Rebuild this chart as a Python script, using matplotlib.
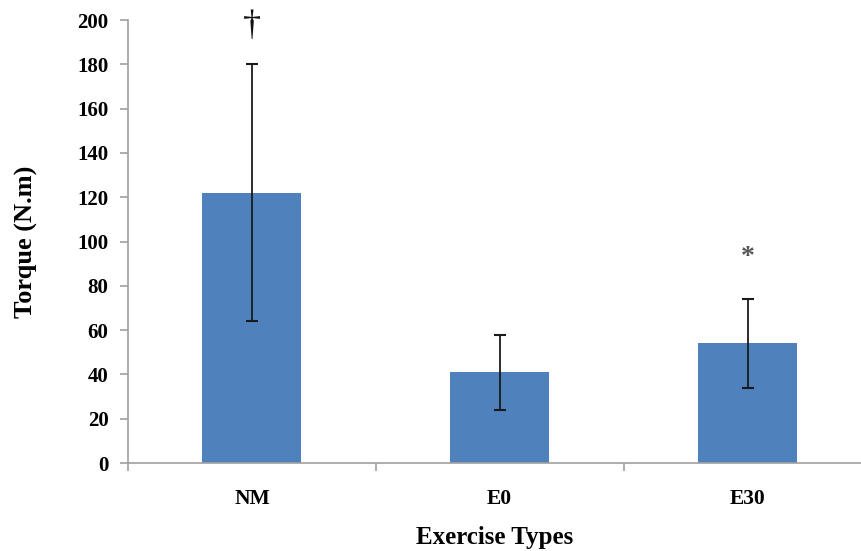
"""Torque by exercise type bar chart."""

import matplotlib
matplotlib.use("Agg")
import matplotlib.pyplot as plt
import numpy as np

categories = ["NM", "E0", "E30"]
torque = [122, 41, 54]
torque_sd = [58, 17, 20]
markers = ["\u2020", "", "*"]
marker_y = [197, None, 93]

BAR_COLOR = "#4F81BD"
AXIS_COLOR = "#A0A0A0"

plt.rcParams["font.family"] = ["Liberation Serif", "DejaVu Serif"]
plt.rcParams["font.weight"] = "bold"

fig = plt.figure(figsize=(8.61, 5.51), dpi=100)
ax = fig.add_axes([0.1487, 0.1597, 0.8513, 0.804])

x = np.arange(len(categories))
ax.bar(x, torque, width=0.4, color=BAR_COLOR, zorder=2)
ax.errorbar(x, torque, yerr=torque_sd, fmt="none", ecolor="#1a1a1a",
            elinewidth=1.3, capsize=4, capthick=1.5, zorder=3)

# significance marks
ax.text(x[0], marker_y[0], markers[0], ha="center", va="center",
        fontsize=26, fontweight="normal", color="#111111")
ax.text(x[2], marker_y[2], markers[2], ha="center", va="center",
        fontsize=20, color="#555555")

ax.set_xlim(-0.5, 2.458)
ax.set_ylim(0, 200)
ax.set_yticks(np.arange(0, 201, 20))

ax.set_xticks(x)
ax.set_xticklabels(categories, fontsize=15.5, fontweight="bold")
ax.set_xticks([-0.5, 0.5, 1.5], minor=True)
ax.tick_params(axis="x", which="major", length=0, pad=19)
ax.tick_params(axis="x", which="minor", length=6, color=AXIS_COLOR, width=1.2)
ax.tick_params(axis="y", length=6, color=AXIS_COLOR, width=1.2, pad=8,
               labelsize=15)
for lbl in ax.get_yticklabels():
    lbl.set_fontweight("bold")

for side in ["top", "right"]:
    ax.spines[side].set_visible(False)
for side in ["left", "bottom"]:
    ax.spines[side].set_color(AXIS_COLOR)
    ax.spines[side].set_linewidth(1.2)

ax.set_xlabel("Exercise Types", fontsize=18, fontweight="bold", labelpad=12)
ax.set_ylabel("Torque (N.m)", fontsize=19, fontweight="bold", labelpad=28)

fig.savefig("out.png", dpi=100)
